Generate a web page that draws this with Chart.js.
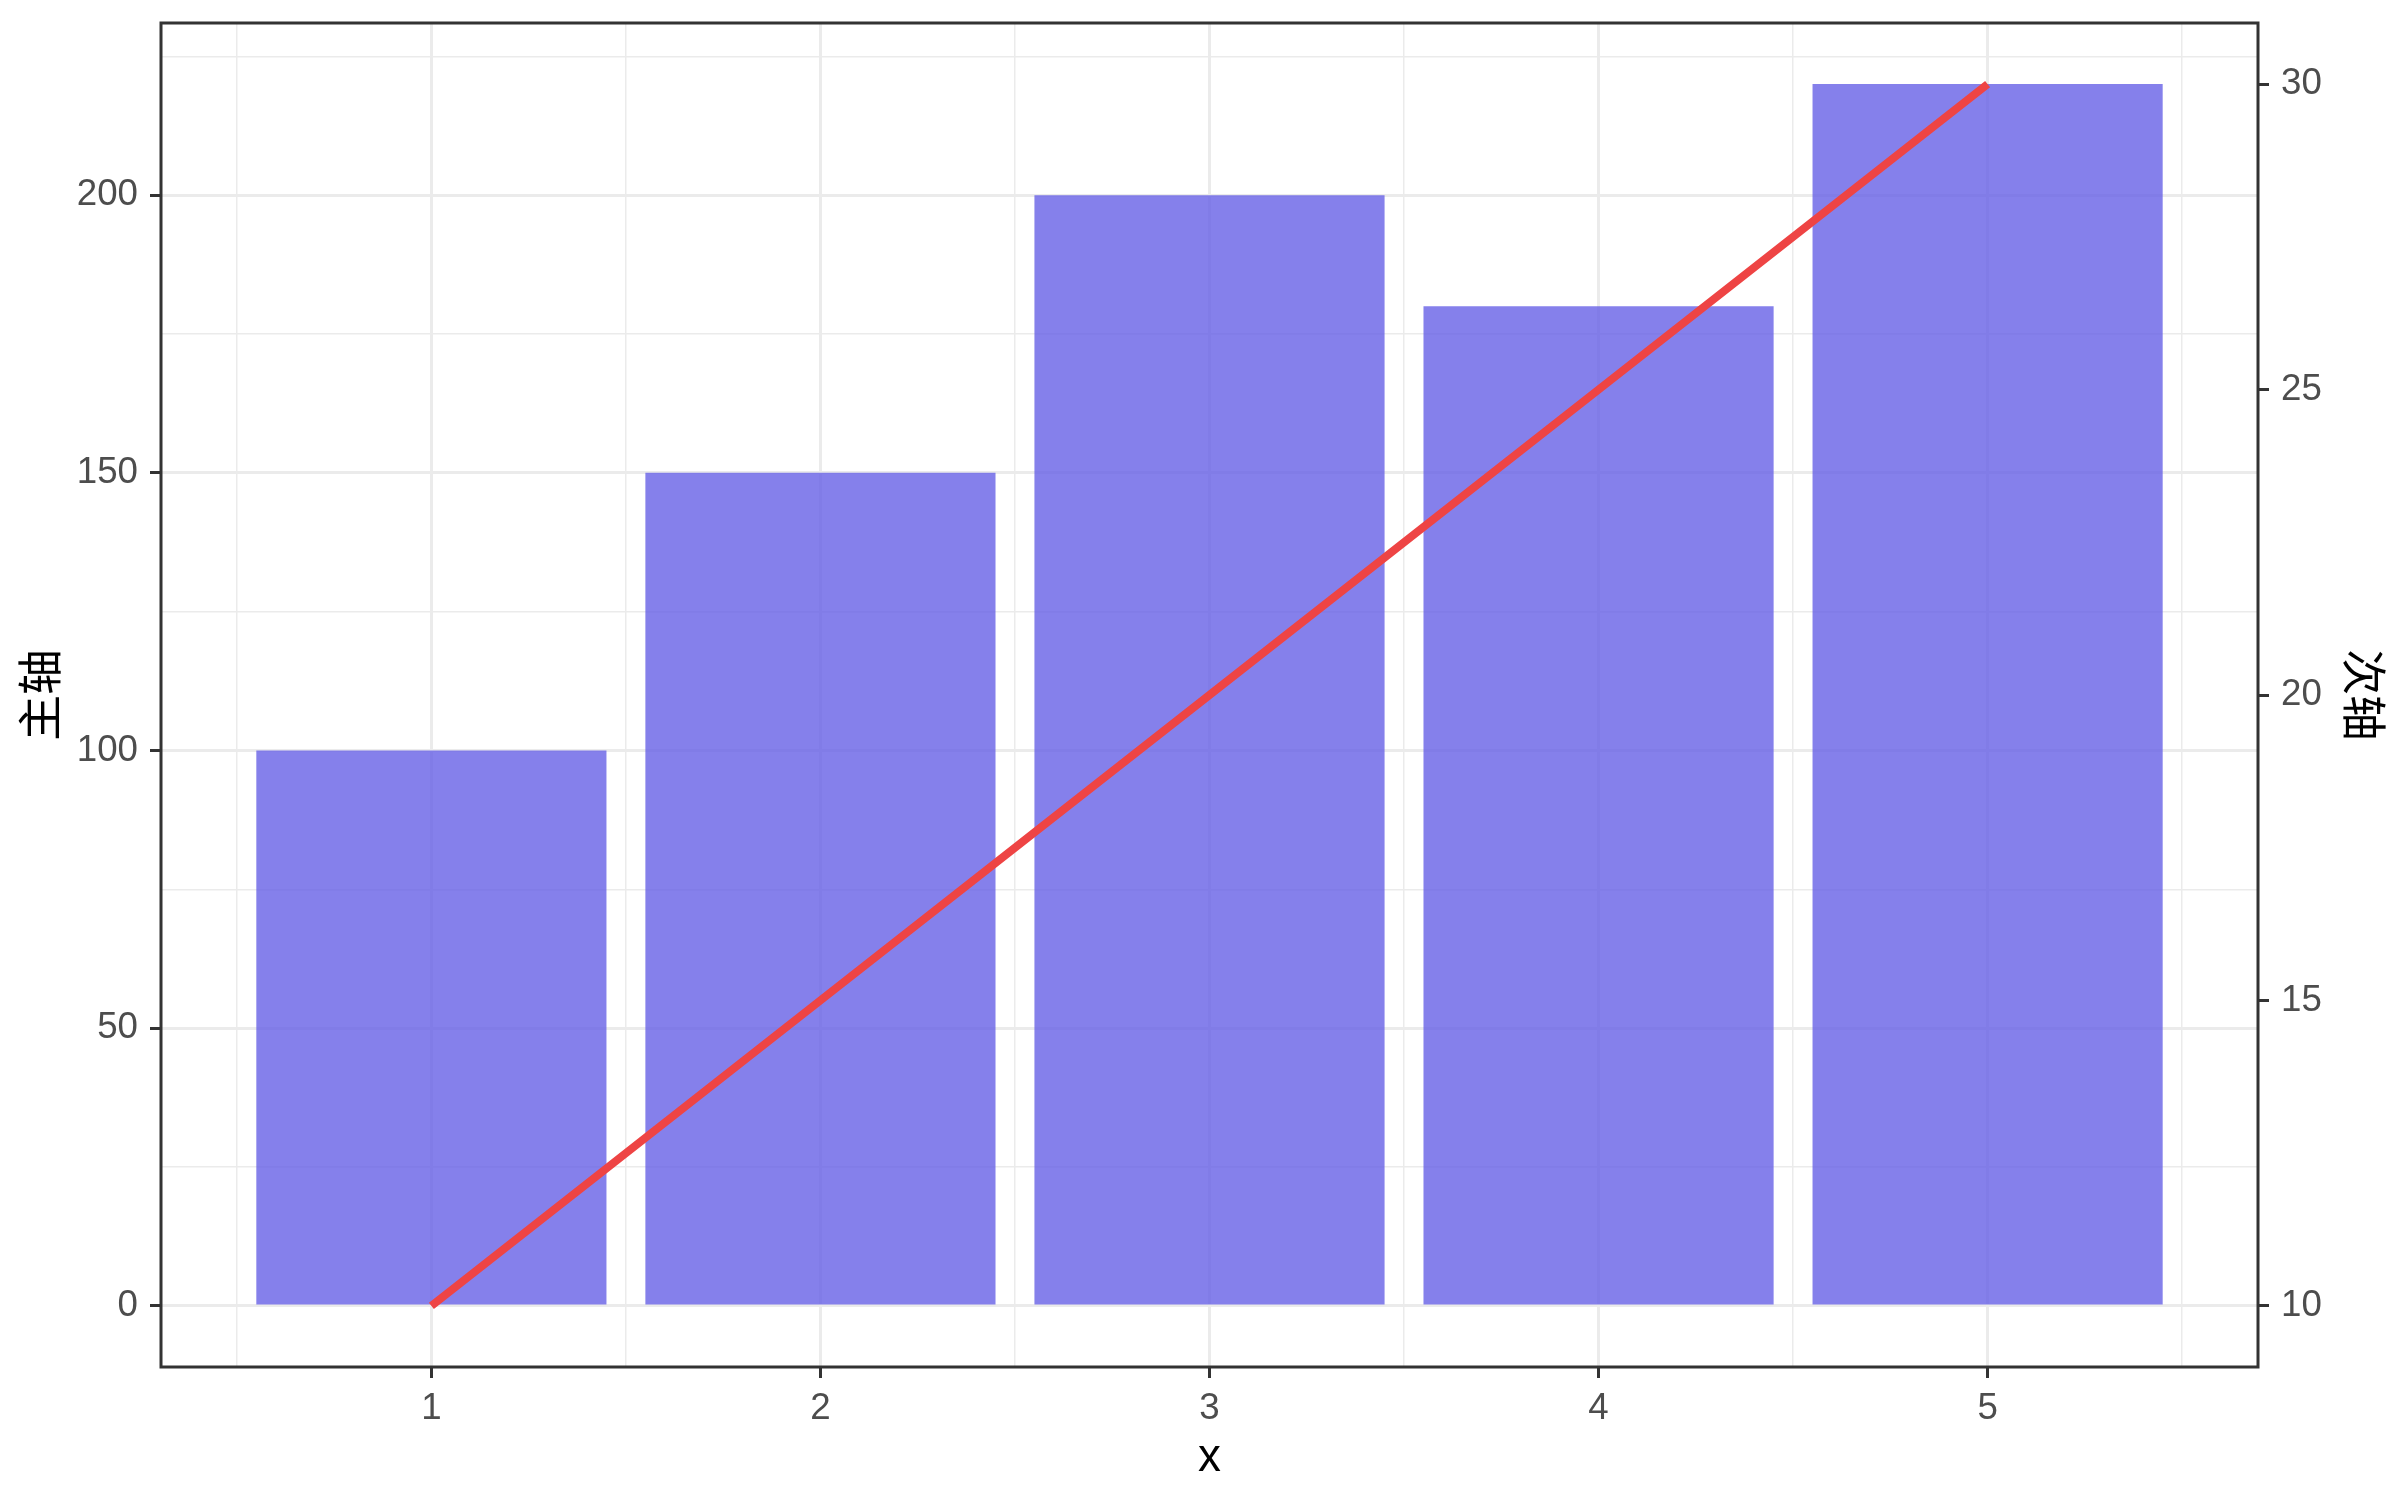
<!DOCTYPE html>
<html>
<head>
<meta charset="utf-8">
<script src="https://cdn.jsdelivr.net/npm/chart.js@4/dist/chart.umd.min.js"></script>
<style>
  html, body { margin: 0; padding: 0; background: #fff; }
  canvas { display: block; }
</style>
</head>
<body>
<canvas id="comboChart" width="2400" height="1500"></canvas>
<script>
// data
const categories = [1, 2, 3, 4, 5];
const barValues = [100, 150, 200, 180, 220];
const lineValues = [10, 15, 20, 25, 30];

const xTicks = [1, 2, 3, 4, 5];
const xMinorTicks = [0.5, 1.5, 2.5, 3.5, 4.5, 5.5];
const yTicks = [0, 50, 100, 150, 200];
const yMinorTicks = [25, 75, 125, 175, 225];
const y2Ticks = [10, 15, 20, 25, 30];

const tickFont = { family: "'Liberation Sans', Arial, sans-serif", size: 36.7 };
const titleFont = { family: "'Liberation Sans', 'Noto Sans CJK SC', sans-serif", size: 45.8 };
const gridColor = '#EBEBEB';
const darkLine = '#333333';

/**
 * @param {Array<number>} list
 * @returns {Function}
 */
function fixedTicks(list) {
    return (scale) => { scale.ticks = list.map(v => ({ value: v })); };
}

/**
 * @param {number} width
 * @returns {Function}
 */
function fixedWidth(width) {
    return (scale) => {
        scale.width = width;
        scale.paddingTop = 0;
        scale.paddingBottom = 0;
    };
}

const panelBorder = {
    id: 'panelBorder',
    afterDatasetsDraw(chart) {
        const { ctx, chartArea } = chart;
        ctx.save();
        ctx.strokeStyle = darkLine;
        ctx.lineWidth = 3;
        ctx.strokeRect(chartArea.left, chartArea.top, chartArea.right - chartArea.left, chartArea.bottom - chartArea.top);
        ctx.restore();
    }
};

const config = {
    type: 'bar',
    data: {
        datasets: [{
            type: 'line',
            label: '次轴',
            data: categories.map((c, i) => ({ x: c, y: lineValues[i] })),
            xAxisID: 'x',
            yAxisID: 'y2',
            borderColor: '#EE4444',
            borderWidth: 8,
            borderCapStyle: 'butt',
            pointRadius: 0,
            tension: 0,
            fill: false,
            order: 0
        }, {
            type: 'bar',
            label: '主轴',
            data: categories.map((c, i) => ({ x: c, y: barValues[i] })),
            xAxisID: 'x',
            yAxisID: 'y',
            backgroundColor: 'rgba(102, 96, 230, 0.8)',
            borderWidth: 0,
            barPercentage: 0.9,
            categoryPercentage: 1.0,
            order: 1
        }]
    },
    options: {
        responsive: false,
        animation: false,
        devicePixelRatio: 1,
        layout: { autoPadding: false, padding: { top: 23, left: 0, right: 0, bottom: 0 } },
        plugins: {
            legend: { display: false },
            tooltip: { enabled: false }
        },
        scales: {
            x: {
                type: 'linear',
                position: 'bottom',
                min: 0.305,
                max: 5.695,
                offset: false,
                afterBuildTicks: fixedTicks(xTicks),
                afterFit: (s) => { s.height = 133; },
                ticks: { color: '#4D4D4D', font: tickFont, padding: 9, maxRotation: 0 },
                grid: { offset: false, color: gridColor, lineWidth: 3, tickColor: darkLine, tickWidth: 3, tickLength: 11 },
                border: { display: false },
                title: { display: true, text: 'x', color: '#000', font: titleFont, padding: { top: 0, bottom: 14 } }
            },
            xMinor: {
                type: 'linear',
                position: 'bottom',
                min: 0.305,
                max: 5.695,
                offset: false,
                afterBuildTicks: fixedTicks(xMinorTicks),
                afterFit: (s) => { s.height = 0; },
                ticks: { display: false },
                grid: { offset: false, color: gridColor, lineWidth: 1.5, drawTicks: false },
                border: { display: false }
            },
            y: {
                type: 'linear',
                position: 'left',
                min: -11,
                max: 231,
                afterBuildTicks: fixedTicks(yTicks.concat(yMinorTicks).sort((a, b) => a - b)),
                afterFit: fixedWidth(161),
                ticks: {
                    color: '#4D4D4D',
                    font: tickFont,
                    padding: 12,
                    callback: (v) => yTicks.includes(v) ? String(v) : ''
                },
                grid: {
                    color: gridColor,
                    lineWidth: (ctx) => yTicks.includes(ctx.tick.value) ? 3 : 1.5,
                    tickColor: (ctx) => yTicks.includes(ctx.tick.value) ? darkLine : 'rgba(0,0,0,0)',
                    tickWidth: 3,
                    tickLength: 11
                },
                border: { display: false },
                title: { display: true, text: '主轴', color: '#000', font: titleFont, padding: { top: 17, bottom: 0 } }
            },
            y2: {
                type: 'linear',
                position: 'right',
                min: 9,
                max: 31,
                afterBuildTicks: fixedTicks(y2Ticks),
                afterFit: fixedWidth(142),
                ticks: { color: '#4D4D4D', font: tickFont, padding: 12 },
                grid: { drawOnChartArea: false, tickColor: darkLine, tickWidth: 3, tickLength: 11 },
                border: { display: false },
                title: { display: true, text: '次轴', color: '#000', font: titleFont, padding: { top: 13, bottom: 0 } }
            }
        }
    },
    plugins: [panelBorder]
};

new Chart(document.querySelector('#comboChart'), config);
</script>
</body>
</html>
